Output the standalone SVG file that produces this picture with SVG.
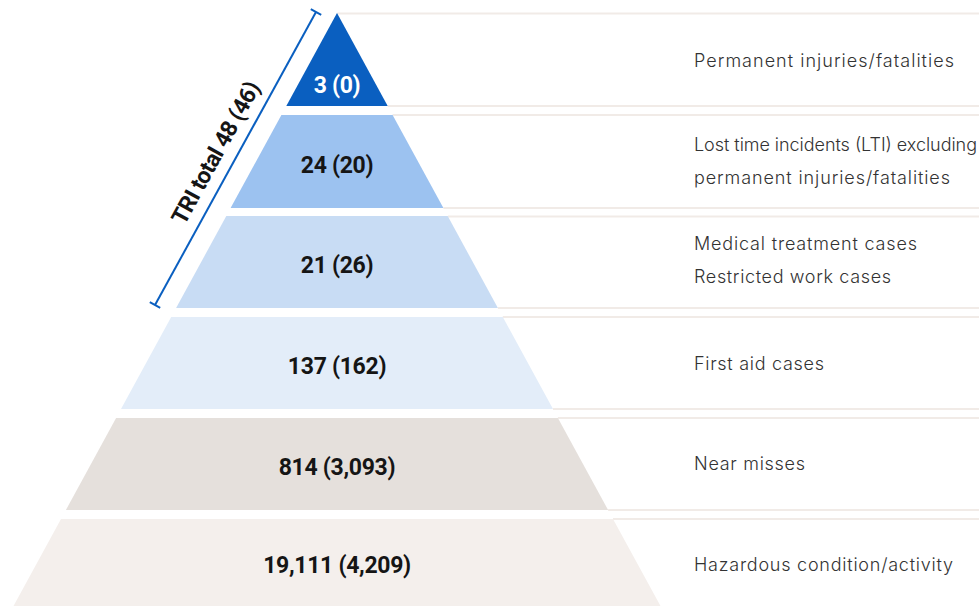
<svg xmlns="http://www.w3.org/2000/svg" width="979" height="606" viewBox="0 0 979 606">
  <style>
    .rule { stroke: #f1ebe7; stroke-width: 2; fill: none; }
    .num { font-family: Roboto, "Liberation Sans", sans-serif; font-weight: 700; font-size: 23px; text-anchor: middle; fill: #151515; letter-spacing: -0.3px; }
    .num.light { fill: #ffffff; }
    .lbl { font-family: Inter, "Noto Sans", "Liberation Sans", sans-serif; font-weight: 300; font-size: 18px; fill: #333333; }
    .bracket { stroke: #0a5fc0; stroke-width: 2; fill: none; }
    .tri { font-family: Roboto, "Liberation Sans", sans-serif; font-weight: 700; font-size: 23px; fill: #151515; text-anchor: middle; letter-spacing: -0.6px; }
  </style>
  <rect width="979" height="606" fill="#ffffff"/>

  <!-- horizontal guide rules running from the pyramid edge to the right margin -->
  <g id="connectors">
    <line class="rule" x1="337.3" y1="13.5" x2="979" y2="13.5"/>
    <line class="rule" x1="387.7" y1="106" x2="979" y2="106"/>
    <line class="rule" x1="392.6" y1="115" x2="979" y2="115"/>
    <line class="rule" x1="443.4" y1="208" x2="979" y2="208"/>
    <line class="rule" x1="448" y1="216.5" x2="979" y2="216.5"/>
    <line class="rule" x1="497.9" y1="308" x2="979" y2="308"/>
    <line class="rule" x1="502.8" y1="317" x2="979" y2="317"/>
    <line class="rule" x1="553" y1="409" x2="979" y2="409"/>
    <line class="rule" x1="557.9" y1="418" x2="979" y2="418"/>
    <line class="rule" x1="608.1" y1="510" x2="979" y2="510"/>
    <line class="rule" x1="613" y1="519" x2="979" y2="519"/>
  </g>

  <g id="tier-permanent">
    <polygon points="337,13 387.7,106 286.3,106" fill="#0a5fc0"/>
    <text class="num light" x="337" y="93">3 (0)</text>
    <text class="lbl" x="694" y="67" textLength="260" lengthAdjust="spacing">Permanent injuries/fatalities</text>
  </g>

  <g id="tier-lti">
    <polygon points="281.4,115 392.6,115 443.4,208 230.6,208" fill="#9cc2f0"/>
    <text class="num" x="337" y="173">24 (20)</text>
    <text class="lbl" x="694" y="151" textLength="283" lengthAdjust="spacing">Lost time incidents (LTI) excluding</text>
    <text class="lbl" x="694" y="184" textLength="256" lengthAdjust="spacing">permanent injuries/fatalities</text>
  </g>

  <g id="tier-medical">
    <polygon points="226.3,216 447.7,216 497.9,308 176.1,308" fill="#c8dcf4"/>
    <text class="num" x="337" y="273">21 (26)</text>
    <text class="lbl" x="694" y="249.5" textLength="223" lengthAdjust="spacing">Medical treatment cases</text>
    <text class="lbl" x="694" y="282.5" textLength="197" lengthAdjust="spacing">Restricted work cases</text>
  </g>

  <g id="tier-first-aid">
    <polygon points="171.2,317 502.8,317 553,409 121,409" fill="#e3edf9"/>
    <text class="num" x="337" y="374">137 (162)</text>
    <text class="lbl" x="694" y="369.5" textLength="130" lengthAdjust="spacing">First aid cases</text>
  </g>

  <g id="tier-near-miss">
    <polygon points="116.1,418 557.9,418 608.1,510 65.9,510" fill="#e5e0dc"/>
    <text class="num" x="337" y="475">814 (3,093)</text>
    <text class="lbl" x="694" y="470" textLength="111" lengthAdjust="spacing">Near misses</text>
  </g>

  <g id="tier-hazard">
    <polygon points="61,519 613,519 660.5,606 13.5,606" fill="#f4efec"/>
    <text class="num" x="337" y="573">19,111 (4,209)</text>
    <text class="lbl" x="694" y="570.5" textLength="259" lengthAdjust="spacing">Hazardous condition/activity</text>
  </g>

  <!-- bracket spanning the recordable tiers -->
  <g id="tri-bracket">
    <line class="bracket" x1="316" y1="12" x2="155" y2="305"/>
    <line class="bracket" x1="310.8" y1="9.1" x2="321.2" y2="14.9"/>
    <line class="bracket" x1="149.8" y1="302.1" x2="160.2" y2="307.9"/>
    <text class="tri" transform="translate(222.5,156.6) rotate(-61.2)">TRI total 48 (46)</text>
  </g>
</svg>
